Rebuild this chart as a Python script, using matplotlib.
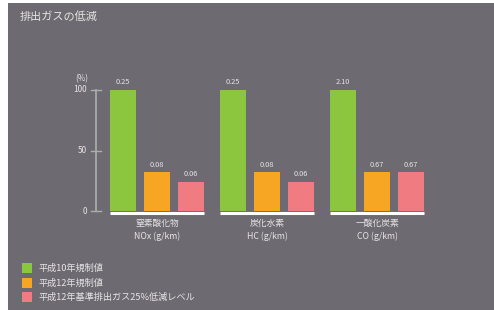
import numpy as np
import matplotlib
matplotlib.use('Agg')
import matplotlib.pyplot as plt
from matplotlib.patches import Rectangle

plt.rcParams['font.family'] = ['Noto Sans CJK JP', 'DejaVu Sans']

# data
categories = ['窒素酸化物\nNOx (g/km)', '炭化水素\nHC (g/km)', '一酸化炭素\nCO (g/km)']
series_names = ['平成10年規制値', '平成12年規制値', '平成12年基準排出ガス25%低減レベル']
h10_vals = [0.25, 0.25, 2.10]
h12_vals = [0.08, 0.08, 0.67]
low_vals = [0.06, 0.06, 0.67]
h10_labels = ['0.25', '0.25', '2.10']
h12_labels = ['0.08', '0.08', '0.67']
low_labels = ['0.06', '0.06', '0.67']
yticks = [0, 50, 100]

W, H = 494, 310
bg = '#6e6a71'
txt = '#e6e4e6'
colors = ['#8cc63e', '#f6a623', '#f07c82']

fig = plt.figure(figsize=(W / 100, H / 100), dpi=100, facecolor='white')

def fx(px):
    return px / W

def fy(py):
    return 1 - py / H

# gray panel
fig.patches.append(Rectangle((fx(8), 0), 1 - fx(8), fy(3), transform=fig.transFigure,
                             facecolor=bg, edgecolor='none', zorder=-1))

fig.text(fx(20), fy(17), '排出ガスの低減', color=txt, fontsize=8, va='center', ha='left')

# axes placed in pixel space
left, right, top, bottom = 90, 440, 70, 230
ax = fig.add_axes([fx(left), fy(bottom), fx(right) - fx(left), fy(top) - fy(bottom)])
ax.set_zorder(2)
ax.set_facecolor('none')
gpx = 110.0
c0 = 157.0
ax.set_xlim((left - c0) / gpx, (right - c0) / gpx)
ppu = (211 - 90) / 100.0
ax.set_ylim(-(bottom - 211) / ppu, 100 + (90 - top) / ppu)
ax.axis('off')

x = np.arange(len(categories))
off = 34 / gpx
bw = 26 / gpx
series = [h10_vals, h12_vals, low_vals]
labels = [h10_labels, h12_labels, low_labels]
for i, (vals, labs) in enumerate(zip(series, labels)):
    pct = np.array(vals) / np.array(h10_vals) * 100
    xs = x + (i - 1) * off
    ax.bar(xs, pct, width=bw, color=colors[i], zorder=2)
    for xx, p, lab in zip(xs, pct, labs):
        ax.text(xx, p + 3, lab, color=txt, fontsize=5.3, ha='center', va='bottom',
                clip_on=False)

# white baselines under each group
for xx in x:
    ax.plot([xx - off - bw / 2, xx + off + bw / 2], [-1.3, -1.3], color='white', lw=2.2,
            solid_capstyle='butt', zorder=3, clip_on=False)
    ax.text(xx, -6.5, categories[xx], color=txt, fontsize=6.3, ha='center', va='top',
            linespacing=1.45, clip_on=False)

# y axis
xa = (96 - c0) / gpx
tick = 5 / gpx
ax.plot([xa, xa], [0, 100], color='#a9b0aa', lw=1.2)
for t in yticks:
    ax.plot([xa - tick, xa + tick], [t, t], color='#a9b0aa', lw=1.0)
    ax.text(xa - 9 / gpx, t, str(t), color=txt, fontsize=6, ha='right', va='center')
ax.text(xa - 14 / gpx, 106, '(%)', color=txt, fontsize=5.8, ha='center', va='bottom')

# legend
rows = [268, 283, 297]
for col, name, ry in zip(colors, series_names, rows):
    fig.patches.append(Rectangle((fx(22), fy(ry + 5)), fx(10), fy(ry - 5) - fy(ry + 5),
                                 transform=fig.transFigure, facecolor=col, edgecolor='none'))
    fig.text(fx(38), fy(ry), name, color=txt, fontsize=6.6, va='center', ha='left')

fig.savefig('out.png', dpi=100, facecolor='white')
